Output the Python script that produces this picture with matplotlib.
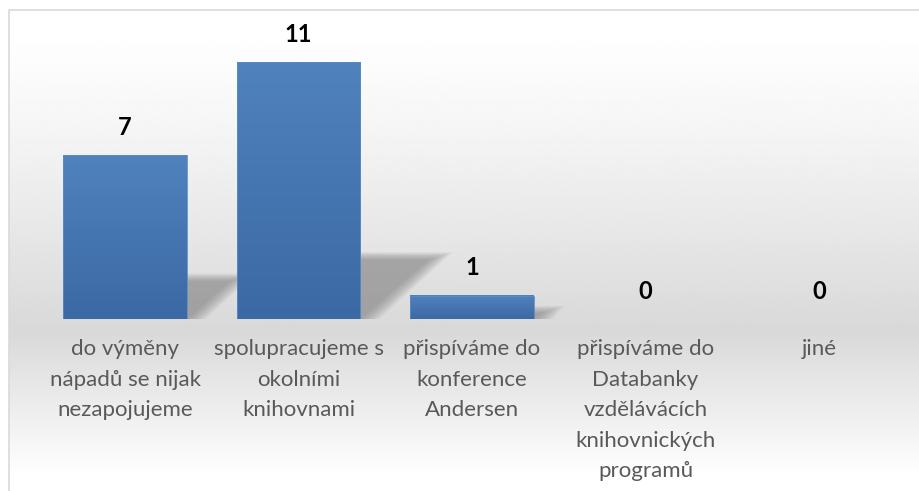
import numpy as np
import matplotlib
matplotlib.use('Agg')
from matplotlib import pyplot as plt
from matplotlib.patches import Polygon

# data
categories = ['do výměny\nnápadů se nijak\nnezapojujeme',
              'spolupracujeme s\nokolními\nknihovnami',
              'přispíváme do\nkonference\nAndersen',
              'přispíváme do\nDatabanky\nvzdělávácích\nknihovnických\nprogramů',
              'jiné']
values = [7, 11, 1, 0, 0]

plt.rcParams['font.family'] = ['Lato', 'DejaVu Sans']

W, H = 920, 491
fig = plt.figure(figsize=(W / 100, H / 100), dpi=100)

# background with the office-style grey gradient and border
bg = fig.add_axes([0, 0, 1, 1])
bg.set_xlim(0, W)
bg.set_ylim(H, 0)
bg.axis('off')
ys = np.linspace(0, 1, 300)
shade = np.where(ys < 0.66, 1 - 0.15 * np.clip((ys - 0.04) / 0.62, 0, 1) ** 1.2,
                 0.85 + 0.15 * np.clip((ys - 0.66) / 0.30, 0, 1))
grad = np.repeat(shade[:, None], 2, axis=1)
bg.imshow(grad, cmap='gray', vmin=0, vmax=1, extent=(9, W + 5, H + 5, 10),
          aspect='auto', interpolation='bicubic')
bg.plot([9, 9, W + 5], [H + 5, 10, 10], color='#d9d9d9', lw=1.2)

# main axes: category spacing ~173.5 px, baseline at y=319 px
left = (125 - 86.75) / W
ax = fig.add_axes([left, (H - 319) / H, 867.5 / W, 309 / H])
ax.patch.set_alpha(0)
ax.axis('off')
ax.set_xlim(-0.5, 4.5)
ymax = 309 / (257 / 11)
ax.set_ylim(0, ymax)

x = np.arange(len(values))
bw = 0.71

# soft perspective shadows (drawn before bars)
px_per_x = 173.5
px_per_y = 257 / 11
for xi, v in zip(x, values):
    if v <= 0:
        continue
    sh = v * 0.23          # shadow height in data units
    dx = sh * px_per_y * 1.15 / px_per_x
    for k in range(12):
        grow = (11 - k) * 0.01
        poly = Polygon([(xi - bw / 2, 0), (xi + bw / 2 + grow, 0),
                        (xi + bw / 2 + dx + grow * 1.3, sh + grow * 3),
                        (xi - bw / 2 + dx, sh + grow * 3)],
                       closed=True, facecolor='#7a7a7a', edgecolor='none', alpha=0.065,
                       zorder=1)
        ax.add_patch(poly)

bars = ax.bar(x, values, width=bw, color='none', edgecolor='#5b8cc8', linewidth=0.6, zorder=3)
bar_grad = np.linspace(1, 0, 100)[:, None]
cmap = matplotlib.colors.LinearSegmentedColormap.from_list('b', ['#3b69a3', '#5082be'])
for rect in bars:
    h = rect.get_height()
    if h <= 0:
        continue
    x0 = rect.get_x()
    ax.imshow(bar_grad, cmap=cmap, extent=(x0, x0 + rect.get_width(), 0, h),
              aspect='auto', zorder=2, interpolation='bicubic')
ax.set_xlim(-0.5, 4.5)
ax.set_ylim(0, ymax)

# value labels
for xi, v in zip(x, values):
    ax.annotate(str(v), xy=(xi, v), xytext=(0, 20), textcoords='offset points',
                ha='center', va='center', fontsize=17, fontweight='bold', color='black')

# category labels
for xi, lab in zip(x, categories):
    ax.annotate(lab, xy=(xi, 0), xytext=(0, -14.5), textcoords='offset points',
                ha='center', va='top', fontsize=16, color='#595959', linespacing=1.66)

fig.savefig('out.png', dpi=100)
